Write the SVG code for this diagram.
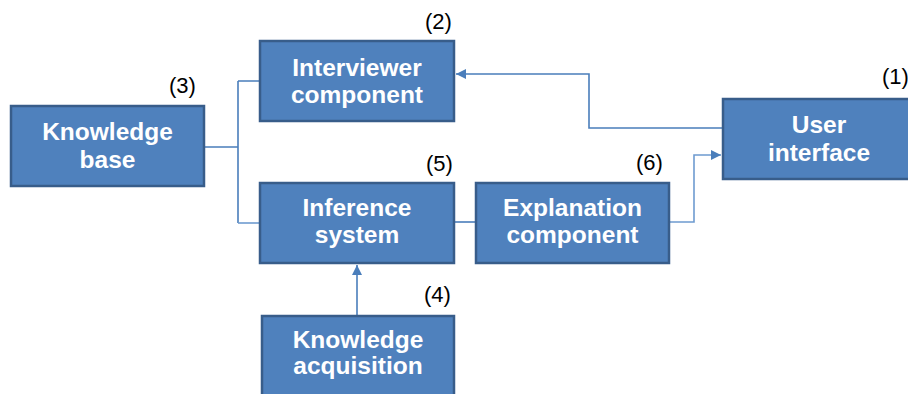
<svg xmlns="http://www.w3.org/2000/svg" width="908" height="394" viewBox="0 0 908 394">
<defs>
<style>
.box{fill:#4F81BD;stroke:#385D8A;stroke-width:2.5}
.t{font-family:"Liberation Sans",Arial,sans-serif;font-weight:bold;font-size:24.5px;fill:#fff;text-anchor:middle}
.n{font-family:"Liberation Sans",Arial,sans-serif;font-size:22px;fill:#000}
.c{fill:none;stroke:#4A7EBB;stroke-width:1.6}
</style>
<marker id="ah" viewBox="0 0 10 10" refX="10" refY="5" markerWidth="10" markerHeight="10" markerUnits="userSpaceOnUse" orient="auto">
<path d="M0,0 L10,5 L0,10 Z" fill="#4A7EBB"/>
</marker>
</defs>
<rect width="908" height="394" fill="#fff"/>
<g id="connectors">
<path class="c" d="M204,147 H238 M238,81 V223 M238,81 H262"/>
<path class="c" style="stroke:#6E9BD0" d="M238,223 H262"/>
<path class="c" d="M723,128 H589 V74 H456" marker-end="url(#ah)"/>
<path class="c" style="stroke:#6E9BD0" d="M669,222 H694 V155 H721" marker-end="url(#ah)"/>
<path class="c" d="M454,222 H476"/>
<path class="c" d="M357,316 V265" marker-end="url(#ah)"/>
</g>
<g id="user-interface">
<rect class="box" x="723" y="99" width="192" height="80"/>
<text class="t" x="819" y="133">User</text>
<text class="t" x="819" y="161">interface</text>
<text class="n" x="882" y="84">(1)</text>
</g>
<g id="interviewer-component">
<rect class="box" x="260" y="41" width="194" height="80"/>
<text class="t" x="357" y="76">Interviewer</text>
<text class="t" x="357" y="103">component</text>
<text class="n" x="425" y="29">(2)</text>
</g>
<g id="knowledge-base">
<rect class="box" x="11" y="106" width="193" height="80"/>
<text class="t" x="107.5" y="140">Knowledge</text>
<text class="t" x="107.5" y="168">base</text>
<text class="n" x="169" y="93">(3)</text>
</g>
<g id="inference-system">
<rect class="box" x="260" y="183" width="194" height="80"/>
<text class="t" x="357" y="216">Inference</text>
<text class="t" x="357" y="243">system</text>
<text class="n" x="426" y="171">(5)</text>
</g>
<g id="explanation-component">
<rect class="box" x="476" y="183" width="193" height="80"/>
<text class="t" x="572.5" y="216">Explanation</text>
<text class="t" x="572.5" y="243">component</text>
<text class="n" x="636" y="170">(6)</text>
</g>
<g id="knowledge-acquisition">
<rect class="box" x="262" y="316" width="192" height="86"/>
<text class="t" x="358" y="348">Knowledge</text>
<text class="t" x="358" y="374">acquisition</text>
<text class="n" x="424" y="302">(4)</text>
</g>
</svg>
